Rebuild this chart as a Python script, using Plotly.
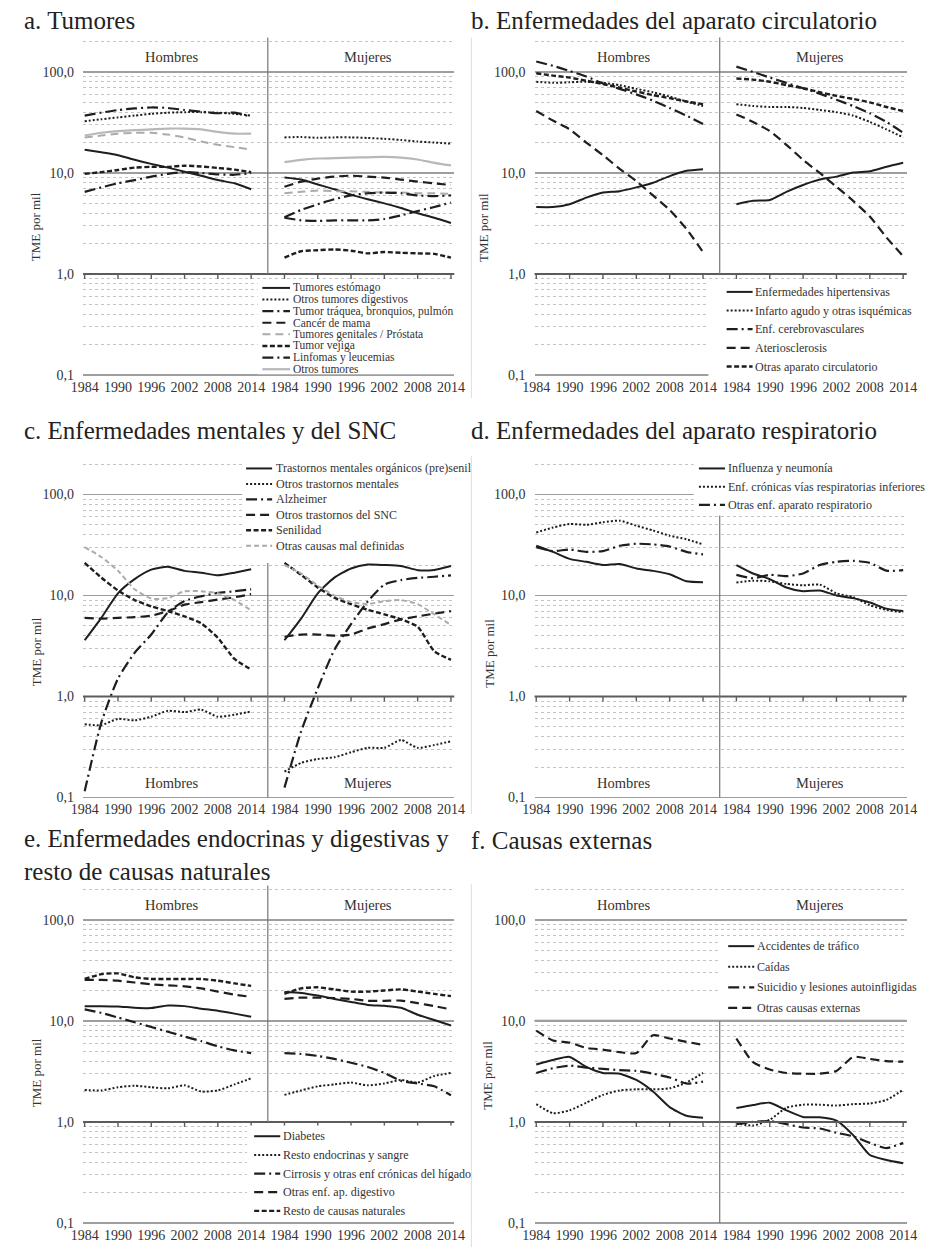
import math
import plotly.graph_objects as go

W, H = 933, 1253
FONT = "Liberation Serif"

# ---------------- data ----------------
YEARS = [1984, 1987, 1990, 1993, 1996, 1999, 2002, 2005, 2008, 2011, 2014]
TICK_YEARS = [1984, 1990, 1996, 2002, 2008, 2014]
Y_TICKS = [0.1, 1, 10, 100]
Y_TICKTEXT = ["0,1", "1,0", "10,0", "100,0"]
Y_MINOR = [0.2, 0.3, 0.4, 0.5, 0.6, 0.7, 0.8, 0.9,
           2, 3, 4, 5, 6, 7, 8, 9,
           20, 30, 40, 50, 60, 70, 80, 90, 200]
SEX_LABELS = ["Hombres", "Mujeres"]

# a. Tumores  (_H hombres, _M mujeres)
A_ESTOMAGO_H = [17, 16, 15, 13.5, 12.3, 11.3, 10.3, 9.4, 8.5, 7.9, 6.9]
A_ESTOMAGO_M = [9.0, 8.6, 7.7, 6.9, 6.1, 5.5, 5.0, 4.5, 4.0, 3.6, 3.2]
A_DIGEST_H = [32.5, 34, 35.5, 37, 38.5, 39.5, 40, 40, 39.5, 38.5, 37]
A_DIGEST_M = [22.5, 22.7, 22.3, 22.5, 22.5, 22.2, 21.8, 21.2, 20.5, 20.0, 19.5]
A_TRAQUEA_H = [37, 39.5, 42, 43.5, 44.5, 44, 42, 40.5, 39, 39.5, 36]
A_TRAQUEA_M = [3.6, 3.4, 3.35, 3.4, 3.4, 3.4, 3.5, 3.8, 4.2, 4.6, 5.1]
A_MAMA_H = []
A_MAMA_M = [7.3, 8.2, 8.8, 9.2, 9.4, 9.2, 9.0, 8.6, 8.2, 7.9, 7.6]
A_GENITAL_H = [22.5, 23.5, 24.5, 25, 25, 24, 22.5, 20.5, 19, 18, 17]
A_GENITAL_M = [6.3, 6.5, 6.7, 6.6, 6.6, 6.5, 6.4, 6.4, 6.3, 6.3, 6.2]
A_VEJIGA_H = [9.8, 10.2, 10.7, 11.3, 11.5, 11.5, 11.8, 11.6, 11.2, 10.8, 10.2]
A_VEJIGA_M = [1.45, 1.68, 1.72, 1.75, 1.70, 1.60, 1.65, 1.62, 1.60, 1.58, 1.45]
A_LINFOMA_H = [6.5, 7.2, 7.9, 8.5, 9.2, 9.8, 10.2, 10.0, 9.7, 9.6, 10.0]
A_LINFOMA_M = [3.64, 4.3, 4.9, 5.5, 6.0, 6.3, 6.4, 6.3, 6.0, 5.9, 6.0]
A_OTROS_H = [23.5, 25, 26, 26.5, 27, 27.5, 27.5, 27, 25.5, 24.5, 24.5]
A_OTROS_M = [12.8, 13.5, 13.9, 14.0, 14.2, 14.3, 14.4, 14.2, 13.6, 12.6, 11.9]

# b. Enfermedades del aparato circulatorio
B_HIPER_H = [4.6, 4.6, 4.9, 5.7, 6.4, 6.6, 7.2, 8.0, 9.3, 10.5, 10.9]
B_HIPER_M = [4.9, 5.3, 5.4, 6.5, 7.6, 8.6, 9.2, 10.1, 10.4, 11.5, 12.6]
B_INFARTO_H = [80, 78, 79, 80, 78, 74, 68, 63, 57, 51, 46]
B_INFARTO_M = [48, 46, 45, 45, 44, 42, 40, 37, 32, 27, 22.5]
B_CEREBRO_H = [127, 115, 102, 90, 77, 68, 60, 52, 44, 37, 30.5]
B_CEREBRO_M = [113, 100, 88, 78, 69, 61, 53, 46, 39, 32, 25]
B_ATERO_H = [41, 33, 27, 20, 15, 11, 8.3, 6.0, 4.3, 2.8, 1.65]
B_ATERO_M = [38, 32, 26, 19, 13.5, 10, 7.3, 5.3, 3.7, 2.3, 1.5]
B_OTRAS_H = [97, 92, 88, 82, 76, 70, 64, 59, 55, 51, 48]
B_OTRAS_M = [86, 84, 80, 74, 69, 63, 58, 54, 50, 45, 41]

# c. Enfermedades mentales y del SNC
C_ORGAN_H = [3.6, 6.0, 10.5, 14.5, 18.0, 19.2, 17.5, 16.8, 15.8, 16.8, 18.2]
C_ORGAN_M = [3.6, 5.9, 10.5, 15.0, 18.5, 20.2, 20.0, 19.6, 17.8, 17.9, 19.6]
C_OTROSMENT_H = [0.53, 0.52, 0.60, 0.58, 0.63, 0.72, 0.70, 0.74, 0.63, 0.66, 0.71]
C_OTROSMENT_M = [0.18, 0.22, 0.24, 0.25, 0.28, 0.31, 0.31, 0.37, 0.31, 0.33, 0.36]
C_ALZ_H = [0.115, 0.55, 1.5, 2.7, 4.1, 6.8, 8.8, 9.8, 10.6, 11.0, 11.5]
C_ALZ_M = [0.125, 0.45, 1.2, 2.9, 5.2, 8.7, 12.8, 14.2, 14.9, 15.3, 15.8]
C_SNC_H = [6.0, 5.9, 6.0, 6.1, 6.3, 7.0, 8.1, 8.6, 9.1, 9.6, 10.3]
C_SNC_M = [3.9, 4.1, 4.1, 4.0, 4.1, 4.7, 5.2, 5.8, 6.2, 6.6, 7.0]
C_SENIL_H = [21, 15, 11.2, 9.0, 7.8, 7.0, 6.2, 5.3, 3.8, 2.35, 1.85]
C_SENIL_M = [21, 16, 12, 9.5, 8.2, 7.2, 6.5, 5.8, 4.9, 2.8, 2.3]
C_MALDEF_H = [30, 24, 17.6, 11.5, 9.3, 9.4, 11.0, 11.0, 10.5, 9.0, 7.1]
C_MALDEF_M = [20, 16.5, 12.5, 10, 8.6, 8.2, 8.8, 9.0, 8.2, 6.5, 5.1]

# d. Enfermedades del aparato respiratorio
D_GRIPE_H = [31, 27, 23, 21.5, 20, 20.5, 18.5, 17.5, 16.2, 13.8, 13.5]
D_GRIPE_M = [20, 16.5, 14.5, 12, 11, 11.2, 10, 9.4, 8.5, 7.4, 7.0]
D_CRONIC_H = [42, 47, 51, 50, 53, 55, 49, 44, 39, 36, 32]
D_CRONIC_M = [13.4, 14, 13.8, 13, 12.6, 12.8, 10.5, 9.6, 8.0, 7.2, 6.8]
D_OTRAS_H = [30, 27.5, 28.5, 27, 27.5, 31, 32.5, 32, 30.5, 27, 25.5]
D_OTRAS_M = [16, 14.8, 16, 15.5, 16.5, 20, 21.5, 22, 21, 17.6, 17.8]

# e. Enfermedades endocrinas y digestivas y resto de causas naturales
E_DIAB_H = [14.0, 14.0, 13.9, 13.5, 13.4, 14.2, 14.0, 13.2, 12.6, 11.8, 11.0]
E_DIAB_M = [19.3, 18.9, 17.8, 16.5, 15.4, 14.4, 14.1, 13.5, 11.5, 10.2, 9.0]
E_RESTOEND_H = [2.07, 2.05, 2.2, 2.28, 2.2, 2.15, 2.3, 2.0, 2.05, 2.35, 2.7]
E_RESTOEND_M = [1.85, 2.05, 2.25, 2.35, 2.45, 2.3, 2.4, 2.6, 2.45, 2.85, 3.05]
E_CIRR_H = [13, 12, 10.8, 9.7, 8.7, 7.8, 7.0, 6.3, 5.6, 5.1, 4.8]
E_CIRR_M = [4.8, 4.7, 4.5, 4.2, 3.85, 3.5, 3.05, 2.55, 2.4, 2.25, 1.83]
E_OTRASDIG_H = [25.5, 25.5, 25, 24, 23, 22.5, 22, 21, 19.5, 18.2, 17.3]
E_OTRASDIG_M = [16.5, 17, 17, 16.8, 16.5, 15.8, 15.8, 15.9, 15, 14, 13]
E_RESTONAT_H = [26, 29, 29.5, 27, 26, 26, 26, 26, 25, 23.5, 22.2]
E_RESTONAT_M = [18.5, 21, 21.5, 20.5, 19.5, 19.5, 20, 20.5, 19.5, 18.5, 17.6]

# f. Causas externas
F_TRAFICO_H = [3.7, 4.1, 4.4, 3.5, 3.05, 3.0, 2.6, 2.0, 1.4, 1.15, 1.1]
F_TRAFICO_M = [1.37, 1.47, 1.55, 1.3, 1.12, 1.11, 1.03, 0.74, 0.47, 0.42, 0.39]
F_CAIDAS_H = [1.5, 1.22, 1.3, 1.55, 1.85, 2.05, 2.1, 2.1, 2.15, 2.45, 3.05]
F_CAIDAS_M = [0.97, 0.92, 1.05, 1.38, 1.48, 1.48, 1.45, 1.5, 1.52, 1.65, 2.08]
F_SUIC_H = [3.05, 3.4, 3.6, 3.45, 3.35, 3.25, 3.2, 3.0, 2.75, 2.4, 2.5]
F_SUIC_M = [0.95, 1.0, 1.02, 0.95, 0.88, 0.86, 0.78, 0.72, 0.62, 0.55, 0.62]
F_OTRAS_H = [8.0, 6.4, 6.1, 5.4, 5.2, 4.9, 4.8, 7.2, 6.7, 6.2, 5.8]
F_OTRAS_M = [6.7, 3.9, 3.3, 3.05, 3.0, 3.0, 3.2, 4.4, 4.2, 4.0, 3.95]

# ---------------- styles ----------------
BLACK = "#1e1e1e"
GRAY = "#ababab"
STYLES = {
    "solid": dict(color=BLACK, dash="solid", width=2),
    "dot": dict(color=BLACK, dash="2px,2px", width=2),
    "dashdot": dict(color=BLACK, dash="11px,4px,2px,4px", width=2.2),
    "longdash": dict(color=BLACK, dash="9px,5px", width=2.2),
    "shortdash": dict(color=BLACK, dash="5px,2.5px", width=2.4),
    "graydash": dict(color=GRAY, dash="8px,5px", width=2),
    "graysolid": dict(color="#b8b8b8", dash="solid", width=2.2),
    "grayshort": dict(color=GRAY, dash="5px,3px", width=2),
}

PANELS = [
    dict(title="a. Tumores", col=0, row=0, title_y=21,
         series=[("Tumores estómago", A_ESTOMAGO_H, A_ESTOMAGO_M, "solid"),
                 ("Otros tumores digestivos", A_DIGEST_H, A_DIGEST_M, "dot"),
                 ("Tumor tráquea, bronquios, pulmón", A_TRAQUEA_H, A_TRAQUEA_M, "dashdot"),
                 ("Cancér de mama", A_MAMA_H, A_MAMA_M, "longdash"),
                 ("Tumores genitales / Próstata", A_GENITAL_H, A_GENITAL_M, "graydash"),
                 ("Tumor vejiga", A_VEJIGA_H, A_VEJIGA_M, "shortdash"),
                 ("Linfomas y leucemias", A_LINFOMA_H, A_LINFOMA_M, "dashdot"),
                 ("Otros tumores", A_OTROS_H, A_OTROS_M, "graysolid")],
         sex_y=140, sep=(1, 219),
         legend=dict(sx0=256.7, sx1=285, tx=287.3, y0=289.3, dy=11.67, rect=(252, 281, 458, 376)),
         ytitle=(25, 228)),
    dict(title="b. Enfermedades del aparato circulatorio", col=1, row=0, title_y=21,
         series=[("Enfermedades hipertensivas", B_HIPER_H, B_HIPER_M, "solid"),
                 ("Infarto agudo y otras isquémicas", B_INFARTO_H, B_INFARTO_M, "dot"),
                 ("Enf. cerebrovasculares", B_CEREBRO_H, B_CEREBRO_M, "dashdot"),
                 ("Ateriosclerosis", B_ATERO_H, B_ATERO_M, "longdash"),
                 ("Otras aparato circulatorio", B_OTRAS_H, B_OTRAS_M, "shortdash")],
         sex_y=140, sep=(1, 219),
         legend=dict(sx0=732.7, sx1=759.3, tx=761, y0=293.3, dy=18.75, rect=(714, 281, 933, 384)),
         ytitle=(484, 229)),
    dict(title="c. Enfermedades mentales y del SNC", col=0, row=1, title_y=433,
         series=[("Trastornos mentales orgánicos (pre)senil", C_ORGAN_H, C_ORGAN_M, "solid"),
                 ("Otros trastornos mentales", C_OTROSMENT_H, C_OTROSMENT_M, "dot"),
                 ("Alzheimer", C_ALZ_H, C_ALZ_M, "dashdot"),
                 ("Otros trastornos del SNC", C_SNC_H, C_SNC_M, "longdash"),
                 ("Senilidad", C_SENIL_H, C_SENIL_M, "shortdash"),
                 ("Otras causas mal definidas", C_MALDEF_H, C_MALDEF_M, "grayshort")],
         sex_y=0.14, sep=(0.1, 21),
         legend=dict(sx0=240, sx1=266.7, tx=269.3, y0=470.7, dy=15.53, rect=(236, 455, 468, 561)),
         ytitle=(25, 655)),
    dict(title="d. Enfermedades del aparato respiratorio", col=1, row=1, title_y=433,
         series=[("Influenza y neumonía", D_GRIPE_H, D_GRIPE_M, "solid"),
                 ("Enf. crónicas vías respiratorias inferiores", D_CRONIC_H, D_CRONIC_M, "dot"),
                 ("Otras enf. aparato respiratorio", D_OTRAS_H, D_OTRAS_M, "dashdot")],
         sex_y=0.14, sep=(0.1, 62),
         legend=dict(sx0=704.3, sx1=731, tx=732.7, y0=470.7, dy=18.3, rect=(699, 455, 933, 515)),
         ytitle=(490, 656)),
    dict(title="e. Enfermedades endocrinas y digestivas y<br>resto de causas naturales", col=0, row=2,
         title_y=859,
         series=[("Diabetes", E_DIAB_H, E_DIAB_M, "solid"),
                 ("Resto endocrinas y sangre", E_RESTOEND_H, E_RESTOEND_M, "dot"),
                 ("Cirrosis y otras enf crónicas del hígado", E_CIRR_H, E_CIRR_M, "dashdot"),
                 ("Otras enf. ap. digestivo", E_OTRASDIG_H, E_OTRASDIG_M, "longdash"),
                 ("Resto de causas naturales", E_RESTONAT_H, E_RESTONAT_M, "shortdash")],
         sex_y=141, sep=(1, 219),
         legend=dict(sx0=248.3, sx1=275, tx=276.7, y0=1141.7, dy=18.75, rect=(241, 1131, 466, 1222)),
         ytitle=(25, 1078)),
    dict(title="f. Causas externas", col=1, row=2, title_y=845,
         series=[("Accidentes de tráfico", F_TRAFICO_H, F_TRAFICO_M, "solid"),
                 ("Caídas", F_CAIDAS_H, F_CAIDAS_M, "dot"),
                 ("Suicidio y lesiones autoinfligidas", F_SUIC_H, F_SUIC_M, "dashdot"),
                 ("Otras causas externas", F_OTRAS_H, F_OTRAS_M, "longdash")],
         sex_y=141, sep=(0.1, 10),
         legend=dict(sx0=734.3, sx1=761, tx=762.7, y0=950.7, dy=20.67, rect=(726, 941, 933, 1020)),
         ytitle=(488, 1080)),
]

# ---------------- geometry (page pixels) ----------------
WOMEN_OFFSET = 36
SEP_X = 33
X_RANGE = [-0.3, 66.6]
Y_RANGE = [-1.02, 2.34]
COLS = [(74.5, 5.69), (537.5, 5.70)]        # pixel of x=0, px per year
ROWS = [(275.3, 101.5), (699.8, 101.5), (1127.3, 101.5)]  # pixel of y=1, px per decade
COL_TITLE_X = [10, 469]

XT = [y - YEARS[0] for y in TICK_YEARS] + [y - YEARS[0] + WOMEN_OFFSET for y in TICK_YEARS]
XTT = [str(y) for y in TICK_YEARS] * 2


def px_x(px):
    return px / W


def px_y(py):
    return 1 - py / H


fig = go.Figure()
layout = {}
shapes = []
annotations = []

for i, p in enumerate(PANELS):
    n = i + 1
    sfx = "" if n == 1 else str(n)
    xname, yname = "x" + sfx, "y" + sfx
    x0px, unit = COLS[p["col"]]
    y1px, dec = ROWS[p["row"]]

    def vy(v, y1px=y1px, dec=dec):
        return px_y(y1px - math.log10(v) * dec)

    xdom = [px_x(x0px + X_RANGE[0] * unit), px_x(x0px + X_RANGE[1] * unit)]
    ydom = [px_y(y1px - Y_RANGE[0] * dec), px_y(y1px - Y_RANGE[1] * dec)]

    layout["xaxis" + sfx] = dict(
        domain=xdom, anchor=yname, range=X_RANGE, tickmode="array",
        tickvals=XT, ticktext=XTT, showgrid=False, zeroline=False,
        showline=False, ticks="", tickfont=dict(family=FONT, size=14, color="#333"),
        fixedrange=True)
    layout["yaxis" + sfx] = dict(
        domain=ydom, anchor=xname, type="log", range=Y_RANGE, tickmode="array",
        tickvals=Y_TICKS, ticktext=Y_TICKTEXT, showgrid=True, gridcolor="#9e9e9e",
        gridwidth=1.3, zeroline=False, showline=False, ticks="",
        ticklabelstandoff=8,
        tickfont=dict(family=FONT, size=14, color="#333"),
        minor=dict(tickmode="array", tickvals=Y_MINOR, showgrid=True,
                   gridcolor="#c4c4c4", griddash="dot", gridwidth=1, ticks=""),
        fixedrange=True)

    # data lines
    for label, hv, mv, style in p["series"]:
        st = STYLES[style]
        for vals, off in ((hv, 0), (mv, WOMEN_OFFSET)):
            if not vals:
                continue
            fig.add_trace(go.Scatter(
                x=[y - YEARS[0] + off for y in YEARS], y=vals,
                xaxis=xname, yaxis=yname, mode="lines", name=label,
                line=dict(color=st["color"], width=st["width"], dash=st["dash"],
                          shape="spline", smoothing=0.6),
                showlegend=False, hoverinfo="skip"))

    # axis line at 1,0 with ticks
    shapes.append(dict(type="line", xref=xname + " domain", x0=0, x1=1,
                       yref="paper", y0=vy(1), y1=vy(1),
                       line=dict(color="#5c5c5c", width=2), layer="above"))
    if p["sep"][0] == 0.1 and p["sep"][1] == 10:
        shapes.append(dict(type="line", xref=xname + " domain", x0=0, x1=1,
                           yref="paper", y0=vy(10), y1=vy(10),
                           line=dict(color="#8a8a8a", width=2.2), layer="below"))
    for tv in XT:
        shapes.append(dict(type="line", xref=xname, x0=tv, x1=tv, yref="paper",
                           y0=vy(1), y1=vy(1) - 5 / H,
                           line=dict(color="#5c5c5c", width=1.4), layer="above"))
    # separator between Hombres / Mujeres
    shapes.append(dict(type="line", xref=xname, x0=SEP_X, x1=SEP_X, yref="paper",
                       y0=vy(p["sep"][0]), y1=vy(p["sep"][1]),
                       line=dict(color="#767676", width=1.2), layer="above"))

    # Hombres / Mujeres labels
    for lab, xv in zip(SEX_LABELS, (15.8, 51.0)):
        annotations.append(dict(text=lab, xref=xname, yref=yname, x=xv,
                                y=math.log10(p["sex_y"]), showarrow=False,
                                font=dict(family=FONT, size=14.5, color="#333")))

    # panel title
    annotations.append(dict(text=p["title"], xref="paper", yref="paper",
                            x=px_x(COL_TITLE_X[p["col"]]), y=px_y(p["title_y"]),
                            xanchor="left", yanchor="middle", showarrow=False, align="left",
                            font=dict(family=FONT, size=25, color="#222")))
    # y title
    annotations.append(dict(text="TME por mil", xref="paper", yref="paper",
                            x=px_x(p["ytitle"][0]), y=px_y(p["ytitle"][1]),
                            xanchor="center", yanchor="middle", textangle=-90,
                            showarrow=False, font=dict(family=FONT, size=13, color="#333")))

    # legend (white box, sample lines, labels)
    lg = p["legend"]
    rx0, ry0, rx1, ry1 = lg["rect"]
    shapes.append(dict(type="rect", xref="paper", yref="paper",
                       x0=px_x(rx0), x1=px_x(rx1), y0=px_y(ry0), y1=px_y(ry1),
                       fillcolor="white", line=dict(width=0), layer="above"))
    fsize = 11.5 if lg["dy"] < 14 else 12
    for k, (label, hv, mv, style) in enumerate(p["series"]):
        st = STYLES[style]
        yy = px_y(lg["y0"] + k * lg["dy"])
        shapes.append(dict(type="line", xref="paper", yref="paper",
                           x0=px_x(lg["sx0"]), x1=px_x(lg["sx1"]), y0=yy, y1=yy,
                           line=dict(color=st["color"], width=st["width"], dash=st["dash"]),
                           layer="above"))
        annotations.append(dict(text=label, xref="paper", yref="paper",
                                x=px_x(lg["tx"]), y=yy, xanchor="left", yanchor="middle",
                                showarrow=False, borderpad=0,
                                font=dict(family=FONT, size=fsize, color="#333")))

# faint chart borders between columns
for (ya, yb) in [(38, 400), (458, 818), (888, 1253)]:
    shapes.append(dict(type="line", xref="paper", yref="paper",
                       x0=px_x(471), x1=px_x(471), y0=px_y(ya), y1=px_y(yb),
                       line=dict(color="#dedede", width=1), layer="below"))

fig.update_layout(
    width=W, height=H, autosize=False,
    margin=dict(l=0, r=0, t=0, b=0),
    paper_bgcolor="white", plot_bgcolor="white",
    font=dict(family=FONT, color="#333"),
    shapes=shapes, annotations=annotations,
    **layout)

# remove the default 8px page margin so the figure fills the window exactly
fig.write_html("out.html",
               config={"displayModeBar": False, "staticPlot": True},
               post_script="document.body.style.margin='0';"
                           "document.documentElement.style.overflow='hidden';")
